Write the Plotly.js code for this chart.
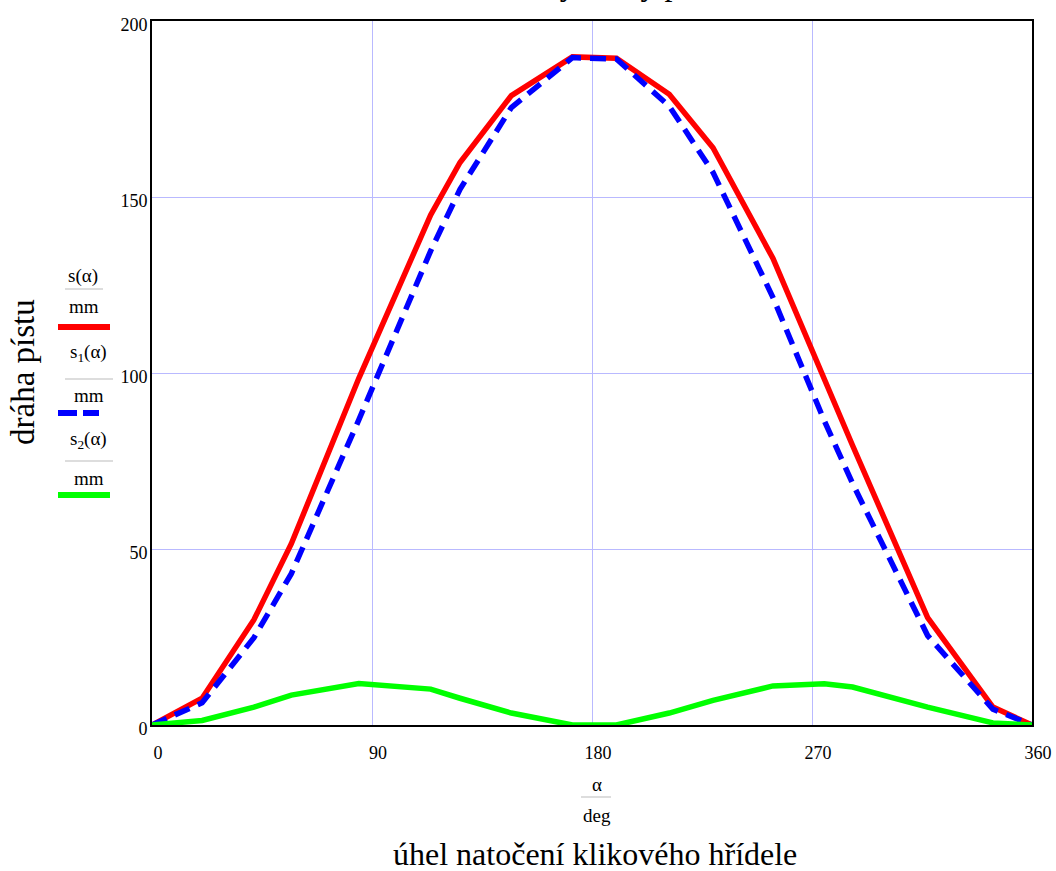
<!DOCTYPE html>
<html>
<head>
<meta charset="utf-8">
<script src="https://cdn.plot.ly/plotly-3.0.1.min.js"></script>
<style>html,body{margin:0;padding:0;background:#fff;}#chart{width:1056px;height:871px;}</style>
</head>
<body>
<div id="chart"></div>
<script>
// crank angle samples (deg)
var alpha = [0, 20.5, 41.7, 57, 84.6, 114, 126, 147, 172, 190, 211.6, 229.5, 254, 275, 286.6, 317.3, 344, 360];
// piston travel s(α)/mm
var s  = [0, 7.6, 29.9, 51.5, 98.5, 144.9, 159.8, 178.8, 189.8, 189.4, 179.2, 164.0, 132.6, 97.8, 79.4, 30.5, 5.1, 0];
// first-order component s1(α)/mm
var s1 = [0, 6.3, 24.8, 43.0, 86.7, 134.7, 152.2, 175.4, 189.6, 189.2, 175.8, 157.0, 121.5, 86.5, 68.6, 25.4, 4.5, 0];
// second-order component s2(α)/mm
var s2 = [0, 1.3, 5.1, 8.5, 11.8, 10.2, 7.6, 3.4, 0, 0, 3.4, 7.0, 11.1, 11.7, 10.8, 5.1, 0.6, 0];

var xTicks = [0, 90, 180, 270, 360];
var yTicks = [0, 50, 100, 150, 200];

var L = 152, R = 1032, T = 21, B = 725;
function px(x){ return (x - L) / (R - L); }
function py(y){ return (B - y) / (B - T); }
var serif = 'Liberation Serif, Times New Roman, serif';

var traces = [
  {x: alpha, y: s,  mode: 'lines', line: {color: '#ff0000', width: 5.5}, name: 's'},
  {x: alpha, y: s1, mode: 'lines', line: {color: '#0000ff', width: 5.5, dash: '16px,9px'}, name: 's1'},
  {x: alpha, y: s2, mode: 'lines', line: {color: '#00ff00', width: 5.5}, name: 's2'}
];

var shapes = [];
var annotations = [];
function label(text, x, y, size){
  annotations.push({xref:'paper', yref:'paper', x: px(x), y: py(y), text: text, showarrow:false,
    xanchor:'center', yanchor:'middle', font:{family: serif, size: size, color:'#000'}});
}
function hline(x0, x1, y, color, w, dash){
  shapes.push({type:'line', xref:'paper', yref:'paper', x0: px(x0), x1: px(x1), y0: py(y), y1: py(y),
    line:{color: color, width: w, dash: dash || 'solid'}});
}
// legend block
label('s(α)', 83, 276, 19); hline(65, 103, 289, '#bbbbbb', 1); label('mm', 84, 306, 19);
hline(58, 110, 327, '#ff0000', 6);
label('s<sub>1</sub>(α)', 88, 353, 19); hline(65, 113, 379, '#bbbbbb', 1); label('mm', 89, 395, 19);
hline(58, 99, 413, '#0000ff', 6, '19px,6px');
label('s<sub>2</sub>(α)', 88, 440, 19); hline(65, 113, 461, '#bbbbbb', 1); label('mm', 89, 478, 19);
hline(58, 110, 495, '#00ff00', 6);
// x axis title block
label('α', 597, 784, 19); hline(581, 611, 797, '#bbbbbb', 1); label('deg', 597, 815, 19);
label('úhel natočení klikového hřídele', 595, 854, 32);
// y axis title
annotations.push({xref:'paper', yref:'paper', x: px(23), y: py(372), text:'dráha pístu', textangle:-90,
  showarrow:false, xanchor:'center', yanchor:'middle', font:{family: serif, size: 33, color:'#000'}});
// chart title (mostly above the visible area)
annotations.push({xref:'paper', yref:'paper', x: px(598), y: py(-16), text:'Průběhy dráhy pístu',
  showarrow:false, xanchor:'center', yanchor:'middle', font:{family: serif, size: 32, color:'#000'}});

var layout = {
  width: 1056, height: 871,
  margin: {l: L, r: 1056 - R, t: T, b: 871 - B},
  paper_bgcolor: '#fff', plot_bgcolor: '#fff',
  showlegend: false,
  xaxis: {range: [0, 360], tickvals: xTicks, ticktext: xTicks.map(String), showgrid: true,
    gridcolor: 'rgb(185,185,255)', gridwidth: 1, zeroline: false, showline: true, linecolor: '#000',
    linewidth: 2, mirror: true, ticks: '', ticklen: 0, ticklabelshift: 6, ticklabelstandoff: 10,
    tickfont: {family: serif, size: 18, color: '#000'}},
  yaxis: {range: [0, 200], tickvals: yTicks, ticktext: yTicks.map(String), showgrid: true,
    gridcolor: 'rgb(185,185,255)', gridwidth: 1, zeroline: false, showline: true, linecolor: '#000',
    linewidth: 2, mirror: true, ticks: '', ticklen: 0, ticklabelshift: 4, ticklabelstandoff: -1,
    tickfont: {family: serif, size: 18, color: '#000'}},
  shapes: shapes,
  annotations: annotations
};
Plotly.newPlot('chart', traces, layout, {displayModeBar: false, staticPlot: true});
</script>
</body>
</html>
